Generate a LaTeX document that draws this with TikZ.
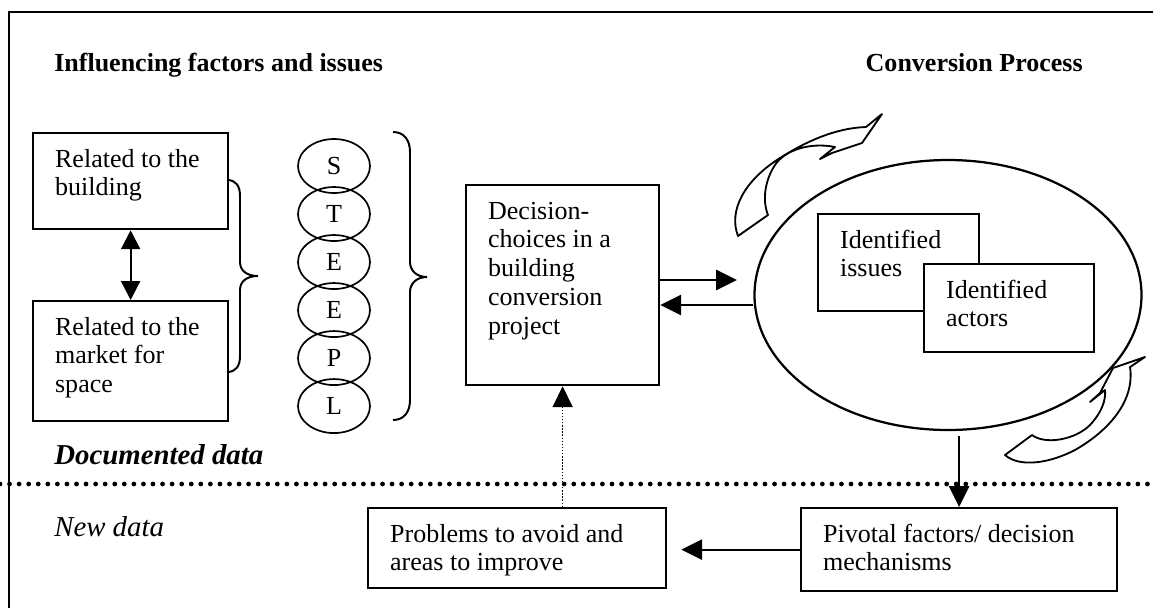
\documentclass[tikz,border=0pt]{standalone}
\usepackage{fontspec}
\setmainfont{Liberation Serif}
\usetikzlibrary{arrows.meta}
\usetikzlibrary{shapes.geometric}
\usetikzlibrary{positioning}
\newdimen\pxu \pxu=0.025cm
\newcommand{\figfont}{\fontsize{18.5}{20.5}\selectfont}
\newcommand{\labfont}{\fontsize{20.5}{22}\selectfont}
\newcommand{\boxtext}[3]{\parbox[c][#2\pxu][t]{#1\pxu}{\leftskip=22\pxu\rightskip=0pt plus 1fil\rule{0pt}{34\pxu}#3}}
\tikzstyle{block} = [draw, line width=1.6pt, inner sep=0pt, anchor=north west, fill=white]
\tikzstyle{letter} = [draw, ellipse, line width=1.2pt, minimum width=72\pxu,
                      minimum height=54\pxu, inner sep=0pt]
\tikzstyle{line} = [draw, line width=1.6pt, -{Triangle[length=0.52cm,width=0.5cm]}]
\tikzstyle{dline} = [draw, line width=1.6pt,
    {Triangle[length=0.47cm,width=0.47cm]}-{Triangle[length=0.47cm,width=0.47cm]}]
\tikzstyle{brace} = [draw, line width=1.4pt]
\tikzstyle{swirl} = [draw, line width=1.3pt, line join=round]
\tikzstyle{title} = [anchor=base west, inner sep=0pt, font=\figfont\bfseries]
\begin{document}
\begin{tikzpicture}[x=0.025cm, y=-0.025cm, every node/.style={font=\figfont}]
  \useasboundingbox (0,0) rectangle (1153,608);
  % frame
  \draw[line width=1.6pt] (9,608) -- (9,12) -- (1153,12);

  % headings
  \node[title] (infl) at (54,71) {Influencing factors and issues};
  \node[title, anchor=base east] (conv) at (1083,71) {Conversion Process};

  % Place nodes
  \node[block] (rel1) at (32,132) {\boxtext{195}{96}{Related to the\\building}};
  \node[block] (rel2) at (32,300) {\boxtext{195}{120}{Related to the\\market for\\space}};

  \node[letter] (s) at (334,166) {S};
  \node[letter, below of=s, node distance=1.2cm] (t) {T};
  \node[letter, below of=t, node distance=1.2cm] (e1) {E};
  \node[letter, below of=e1, node distance=1.2cm] (e2) {E};
  \node[letter, below of=e2, node distance=1.2cm] (p) {P};
  \node[letter, below of=p, node distance=1.2cm] (l) {L};

  \node[block] (dec) at (465,184) {\boxtext{193}{200}{Decision-\\choices in a\\building\\conversion\\project}};

  \node[draw, ellipse, line width=1.6pt, minimum width=387\pxu, minimum height=270\pxu,
        inner sep=0pt] (proc) at (948,295) {};
  \node[block] (iss) at (817,213) {\boxtext{161}{97}{Identified\\issues}};
  \node[block] (act) at (923,263) {\boxtext{170}{88}{Identified\\actors}};

  \node[block] (prob) at (367,507) {\boxtext{298}{80}{Problems to avoid and\\areas to improve}};
  \node[block] (piv) at (800,507) {\boxtext{316}{83}{Pivotal factors/ decision\\mechanisms}};

  \node[anchor=base west, inner sep=0pt, font=\labfont\bfseries\itshape] (doc) at (54,464) {Documented data};
  \node[anchor=base west, inner sep=0pt, font=\labfont\itshape] (new) at (54,536) {New data};

  % braces
  \path[brace] (227,180) .. controls (236,180) and (240,186) .. (240,196) -- (240,262)
    .. controls (240,270) and (246,276) .. (258,276) .. controls (246,276) and (240,282) .. (240,290)
    -- (240,356) .. controls (240,366) and (236,372) .. (227,372);
  \path[brace] (393,132) .. controls (404,132) and (410,140) .. (410,152) -- (410,262)
    .. controls (410,270) and (416,277) .. (427,277) .. controls (416,277) and (410,284) .. (410,292)
    -- (410,400) .. controls (410,412) and (404,420) .. (393,420);

  % curved arrows round the process
  \path[swirl] (882,114) -- (862,143) -- (832,153) -- (820,159) -- (835,147)
    .. controls (810,142) and (785,150) .. (775,165) .. controls (765,180) and (762,200) .. (768,215)
    -- (738,236) .. controls (728,210) and (745,180) .. (780,158)
    .. controls (805,142) and (835,128) .. (866,127) -- cycle;
  \path[swirl] (1145,357) -- (1130,367) .. controls (1135,400) and (1110,430) .. (1075,450)
    .. controls (1050,463) and (1020,468) .. (1005,455) -- (1032,435)
    .. controls (1045,445) and (1075,440) .. (1090,425) .. controls (1102,412) and (1106,400) .. (1105,390)
    -- (1090,402) -- (1100,393) -- (1113,368) -- cycle;

  % connectors
  \path[dline] (rel1.south) -- (rel2.north);
  \coordinate (ahead) at (737,280);
  \path[line] (dec.east |- ahead) -- (ahead);
  \path[line] ([yshift=-0.25cm]proc.west) -- ([yshift=-0.25cm]proc.west -| dec.east);
  \path[line] ([yshift=-0.125cm]proc.south -| piv.north) -- (piv.north);
  \path[line] (piv.west) -- ([xshift=0.35cm]prob.east |- piv.west);
  \path[line, line width=0.9pt, dash pattern=on 1pt off 1.2pt] (dec.south |- prob.north) -- (dec.south);

  % border between documented and new data
  \draw[line width=3.4pt, line cap=round, dash pattern=on 0pt off 6.8pt] (0,484) -- (1153,484);
\end{tikzpicture}
\end{document}
